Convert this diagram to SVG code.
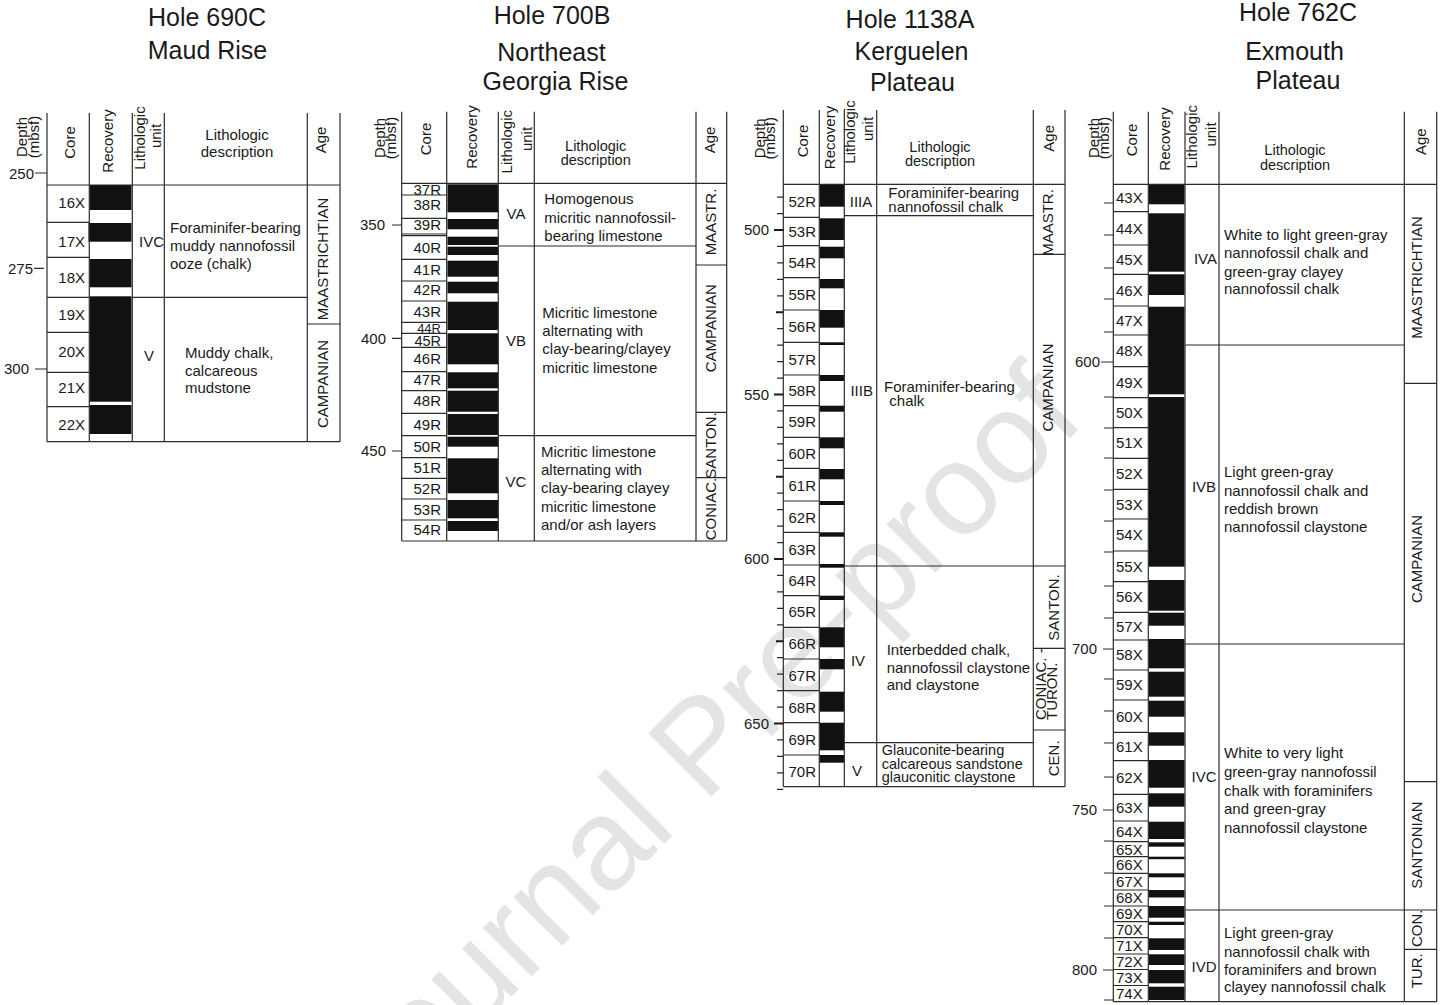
<svg xmlns="http://www.w3.org/2000/svg" width="1445" height="1005" viewBox="0 0 1445 1005">
<style>
.ln{stroke:#2b2b2b;stroke-width:1.2;fill:none}
.tk{stroke:#2b2b2b;stroke-width:1.2}
.tkb{stroke:#1a1a1a;stroke-width:2.2}
.blk{fill:#111}
text{font-family:"Liberation Sans",Arial,Helvetica,sans-serif;font-size:15px;fill:#1a1a1a}
.ti{font-size:25px}
.sm{font-size:14.5px}
.xs{font-size:13px}
.m{text-anchor:middle}
.e{text-anchor:end}
.wm{font-size:130px;fill:#e4e4e4}
</style>
<rect width="1445" height="1005" fill="#fff"/>
<text class="wm" transform="translate(377,1131) rotate(-45)">Journal Pre-proof</text>

<!-- ============ HOLE 690C ============ -->
<g id="hole-690C">
<text class="ti m" x="207" y="25.7">Hole 690C</text>
<text class="ti m" x="207.5" y="59.3">Maud Rise</text>
<g id="h690-header">
<text class="m" transform="translate(27,137) rotate(-90)">Depth</text>
<text class="m" transform="translate(39,137) rotate(-90)">(mbsf)</text>
<text class="m" transform="translate(75,142.5) rotate(-90)">Core</text>
<text class="m" transform="translate(112.5,141) rotate(-90)">Recovery</text>
<text class="m" transform="translate(144.5,138) rotate(-90)">Lithologic</text>
<text class="m" transform="translate(161,136) rotate(-90)">unit</text>
<text class="m" x="237" y="140">Lithologic</text>
<text class="m" x="237" y="156.7">description</text>
<text class="m" transform="translate(326,140) rotate(-90)">Age</text>
</g>
<g id="h690-recovery">
<rect class="blk" x="90" y="185" width="41.5" height="25"/>
<rect class="blk" x="88.5" y="223" width="43" height="18.7"/>
<rect class="blk" x="90" y="259" width="41.5" height="28.3"/>
<rect class="blk" x="90" y="296.3" width="41.5" height="105.4"/>
<rect class="blk" x="90" y="405" width="41.5" height="29"/>
</g>
<g id="h690-grid">
<path class="ln" d="M47,113V441.7 M89.3,113V441.7 M132.3,113V441.7 M164.3,113V441.7 M307.3,113V441.7 M340,113V441.7 M47,185H340 M47,441.7H340"/>
<path class="ln" d="M47,222.3H89.3 M47,257.3H89.3 M47,297.3H89.3 M47,332.3H89.3 M47,372.3H89.3 M47,406.7H89.3 M132.3,297.3H307.3 M307.3,324H340"/>
<path class="tk" d="M35,173H47 M34,268.3H44 M35,369H47"/>
</g>
<text class="e" x="34" y="178.5">250</text>
<text class="e" x="33" y="273.6">275</text>
<text class="e" x="29" y="374.3">300</text>
<g id="h690-cores">
<text class="e" x="85" y="208.4">16X</text>
<text class="e" x="85" y="247">17X</text>
<text class="e" x="85" y="283.4">18X</text>
<text class="e" x="85" y="320.4">19X</text>
<text class="e" x="85" y="357.4">20X</text>
<text class="e" x="85" y="393.4">21X</text>
<text class="e" x="85" y="430.4">22X</text>
</g>
<text class="m" x="151.5" y="247">IVC</text>
<text class="m" x="149" y="360.5">V</text>
<text x="170" y="233">Foraminifer-bearing</text>
<text x="170" y="251">muddy nannofossil</text>
<text x="170" y="269">ooze (chalk)</text>
<text x="185" y="358">Muddy chalk,</text>
<text x="185" y="375.5">calcareous</text>
<text x="185" y="393">mudstone</text>
<text class="m" transform="translate(328,259) rotate(-90)">MAASTRICHTIAN</text>
<text class="m" transform="translate(328,384) rotate(-90)">CAMPANIAN</text>
</g>

<!-- ============ HOLE 700B ============ -->
<g id="hole-700B">
<text class="ti m" x="552" y="24">Hole 700B</text>
<text class="ti m" x="551.5" y="61">Northeast</text>
<text class="ti m" x="555.5" y="90">Georgia Rise</text>
<g id="h700-header">
<text class="m" transform="translate(385,138) rotate(-90)">Depth</text>
<text class="m" transform="translate(396,138) rotate(-90)">(mbsf)</text>
<text class="m" transform="translate(431,139) rotate(-90)">Core</text>
<text class="m" transform="translate(477,137) rotate(-90)">Recovery</text>
<text class="m" transform="translate(512,141.7) rotate(-90)">Lithologic</text>
<text class="m" transform="translate(532,139) rotate(-90)">unit</text>
<text class="m sm" x="595.7" y="150.5">Lithologic</text>
<text class="m sm" x="595.7" y="164.5">description</text>
<text class="m" transform="translate(715,140) rotate(-90)">Age</text>
</g>
<g id="h700-recovery">
<rect class="blk" x="447.5" y="184.3" width="50.5" height="28"/>
<rect class="blk" x="447.5" y="219" width="50.5" height="10.3"/>
<rect class="blk" x="447.5" y="236.7" width="50.5" height="8.3"/>
<rect class="blk" x="447.5" y="246.7" width="50.5" height="8.3"/>
<rect class="blk" x="447.5" y="260.7" width="50.5" height="16"/>
<rect class="blk" x="447.5" y="281.7" width="50.5" height="11.6"/>
<rect class="blk" x="447.5" y="301.7" width="50.5" height="28.3"/>
<rect class="blk" x="447.5" y="333.3" width="50.5" height="31"/>
<rect class="blk" x="447.5" y="372.3" width="50.5" height="16"/>
<rect class="blk" x="447.5" y="390.7" width="50.5" height="21"/>
<rect class="blk" x="447.5" y="414" width="50.5" height="21"/>
<rect class="blk" x="447.5" y="436.7" width="50.5" height="10"/>
<rect class="blk" x="447.5" y="458.3" width="50.5" height="35"/>
<rect class="blk" x="447.5" y="500" width="50.5" height="18.3"/>
<rect class="blk" x="447.5" y="521" width="50.5" height="10"/>
</g>
<g id="h700-grid">
<path class="ln" d="M401.7,111.7V541 M446.7,111.7V541 M498.3,111.7V541 M534.3,111.7V541 M696,111.7V541 M726.7,111.7V541 M401.7,183.3H726.7 M401.7,541H726.7"/>
<path class="ln" d="M401.7,195H446.7 M401.7,218.3H446.7 M401.7,234H446.7 M401.7,235.7H446.7 M401.7,259.3H446.7 M401.7,281H446.7 M401.7,301H446.7 M401.7,322.3H446.7 M401.7,333.3H446.7 M401.7,347.3H446.7 M401.7,371.7H446.7 M401.7,390.7H446.7 M401.7,413.3H446.7 M401.7,435.7H446.7 M401.7,457.7H446.7 M401.7,478.3H446.7 M401.7,499H446.7 M401.7,520H446.7"/>
<path class="ln" d="M498.3,246H696 M498.3,435.7H696 M696,265H726.7 M696,412.3H726.7 M696,477.7H726.7"/>
<path class="tk" d="M392,225H401.7 M392,338.3H401.7 M392,451H401.7"/>
</g>
<text class="e" x="385" y="230.3">350</text>
<text class="e" x="386" y="343.6">400</text>
<text class="e" x="386" y="456.3">450</text>
<g id="h700-cores">
<text class="e" x="441" y="195.4">37R</text>
<text class="e" x="441" y="210.4">38R</text>
<text class="e" x="441" y="230.4">39R</text>
<text class="e" x="441" y="253">40R</text>
<text class="e" x="441" y="275.4">41R</text>
<text class="e" x="441" y="295.4">42R</text>
<text class="e" x="441" y="317">43R</text>
<text class="e xs" x="441" y="332.5">44R</text>
<text class="e sm" x="441" y="346">45R</text>
<text class="e" x="441" y="364.4">46R</text>
<text class="e" x="441" y="385.4">47R</text>
<text class="e" x="441" y="406.4">48R</text>
<text class="e" x="441" y="430.4">49R</text>
<text class="e" x="441" y="452">50R</text>
<text class="e" x="441" y="473">51R</text>
<text class="e" x="441" y="493.7">52R</text>
<text class="e" x="441" y="515.4">53R</text>
<text class="e" x="441" y="535.4">54R</text>
</g>
<text class="m" x="516" y="218.5">VA</text>
<text class="m" x="516" y="345.5">VB</text>
<text class="m" x="516" y="487">VC</text>
<text x="544.3" y="204.3">Homogenous</text>
<text x="544.3" y="223.3">micritic nannofossil-</text>
<text x="544.3" y="240.7">bearing limestone</text>
<text x="542.3" y="318.3">Micritic limestone</text>
<text x="542.3" y="336">alternating with</text>
<text x="542.3" y="354.3">clay-bearing/clayey</text>
<text x="542.3" y="372.7">micritic limestone</text>
<text x="541" y="456.7">Micritic limestone</text>
<text x="541" y="475">alternating with</text>
<text x="541" y="493.3">clay-bearing clayey</text>
<text x="541" y="511.7">micritic limestone</text>
<text x="541" y="530">and/or ash layers</text>
<text class="m" transform="translate(716,222) rotate(-90)">MAASTR.</text>
<text class="m" transform="translate(716,328.3) rotate(-90)">CAMPANIAN</text>
<text class="m" transform="translate(716,445.5) rotate(-90)">SANTON.</text>
<text class="m" transform="translate(716,509) rotate(-90)">CONIAC.</text>
</g>

<!-- ============ HOLE 1138A ============ -->
<g id="hole-1138A">
<text class="ti m" x="910" y="27.5">Hole 1138A</text>
<text class="ti m" x="911.5" y="60">Kerguelen</text>
<text class="ti m" x="912.5" y="90.5">Plateau</text>
<g id="h1138-header">
<text class="m" transform="translate(765,138.3) rotate(-90)">Depth</text>
<text class="m" transform="translate(775,138.3) rotate(-90)">(mbsf)</text>
<text class="m" transform="translate(807.5,141) rotate(-90)">Core</text>
<text class="m" transform="translate(835,137.5) rotate(-90)">Recovery</text>
<text class="m" transform="translate(855,132) rotate(-90)">Lithologic</text>
<text class="m" transform="translate(873,129) rotate(-90)">unit</text>
<text class="m sm" x="940" y="151.5">Lithologic</text>
<text class="m sm" x="940" y="165.5">description</text>
<text class="m" transform="translate(1054,138.3) rotate(-90)">Age</text>
</g>
<g id="h1138-recovery">
<rect class="blk" x="820" y="185" width="24" height="21.7"/>
<rect class="blk" x="820" y="218.3" width="24" height="21.7"/>
<rect class="blk" x="820" y="246.7" width="24" height="11.6"/>
<rect class="blk" x="820" y="279" width="24" height="9.3"/>
<rect class="blk" x="820" y="310" width="24" height="17.7"/>
<rect class="blk" x="820" y="342.3" width="24" height="2.7"/>
<rect class="blk" x="820" y="375" width="24" height="6"/>
<rect class="blk" x="820" y="405.7" width="24" height="6"/>
<rect class="blk" x="820" y="437.3" width="24" height="11"/>
<rect class="blk" x="820" y="469" width="24" height="10.3"/>
<rect class="blk" x="820" y="501" width="24" height="4"/>
<rect class="blk" x="820" y="532.3" width="24" height="4.4"/>
<rect class="blk" x="820" y="564" width="24" height="3.7"/>
<rect class="blk" x="820" y="595.7" width="24" height="4.3"/>
<rect class="blk" x="820" y="627.3" width="24" height="20"/>
<rect class="blk" x="820" y="659" width="24" height="10.3"/>
<rect class="blk" x="820" y="691.7" width="24" height="20"/>
<rect class="blk" x="820" y="722.7" width="24" height="27.6"/>
<rect class="blk" x="820" y="755" width="24" height="7.7"/>
</g>
<g id="h1138-grid">
<path class="ln" d="M783.3,110V786.7 M819.3,110V786.7 M844.3,110V786.7 M876.7,110V786.7 M1033.3,110V786.7 M1065,110V786.7 M783.3,184.3H1065 M783.3,786.7H1065"/>
<path class="ln" d="M783.3,217.3H819.3 M783.3,245.7H819.3 M783.3,277.7H819.3 M783.3,310H819.3 M783.3,342.3H819.3 M783.3,375H819.3 M783.3,405.7H819.3 M783.3,437.3H819.3 M783.3,468.3H819.3 M783.3,501H819.3 M783.3,532.3H819.3 M783.3,565H819.3 M783.3,595.7H819.3 M783.3,627.3H819.3 M783.3,659H819.3 M783.3,690.7H819.3 M783.3,722.7H819.3 M783.3,755H819.3"/>
<path class="ln" d="M844.3,215.7H1033.3 M844.3,566H1033.3 M844.3,742.7H1033.3 M1033.3,254.3H1065 M1033.3,566H1065 M1033.3,648.3H1065 M1033.3,730H1065"/>
<path class="tk" d="M777,197.1H783.3 M777,213.55H783.3 M777,246.45H783.3 M777,262.9H783.3 M777,279.35H783.3 M777,295.8H783.3 M777,328.7H783.3 M777,345.15H783.3 M777,361.6H783.3 M777,378.05H783.3 M777,410.95H783.3 M777,427.4H783.3 M777,443.85H783.3 M777,460.3H783.3 M777,493.2H783.3 M777,509.65H783.3 M777,526.1H783.3 M777,542.55H783.3 M777,575.45H783.3 M777,591.9H783.3 M777,608.35H783.3 M777,624.8H783.3 M777,657.7H783.3 M777,674.15H783.3 M777,690.6H783.3 M777,707.05H783.3 M777,739.95H783.3 M777,756.4H783.3 M777,772.85H783.3 M777,789.3H783.3"/>
<path class="tkb" d="M774,230H783.3 M776,312.25H783.3 M774,394.5H783.3 M776,476.75H783.3 M774,559H783.3 M776,641.25H783.3 M774,723.5H783.3"/>
</g>
<text class="e" x="769" y="235.3">500</text>
<text class="e" x="769" y="399.8">550</text>
<text class="e" x="769" y="564.3">600</text>
<text class="e" x="769" y="728.8">650</text>
<g id="h1138-cores">
<text class="e" x="816" y="206.6">52R</text>
<text class="e" x="816" y="237.3">53R</text>
<text class="e" x="816" y="267.5">54R</text>
<text class="e" x="816" y="299.7">55R</text>
<text class="e" x="816" y="332">56R</text>
<text class="e" x="816" y="364.5">57R</text>
<text class="e" x="816" y="396.2">58R</text>
<text class="e" x="816" y="427.3">59R</text>
<text class="e" x="816" y="458.6">60R</text>
<text class="e" x="816" y="490.5">61R</text>
<text class="e" x="816" y="522.5">62R</text>
<text class="e" x="816" y="554.5">63R</text>
<text class="e" x="816" y="586.2">64R</text>
<text class="e" x="816" y="617.3">65R</text>
<text class="e" x="816" y="649">66R</text>
<text class="e" x="816" y="680.7">67R</text>
<text class="e" x="816" y="712.5">68R</text>
<text class="e" x="816" y="744.7">69R</text>
<text class="e" x="816" y="776.7">70R</text>
</g>
<text class="m" x="861" y="207">IIIA</text>
<text class="m" x="861.7" y="395.5">IIIB</text>
<text class="m" x="858" y="665.5">IV</text>
<text class="m" x="857" y="775.5">V</text>
<text x="888.3" y="197.5">Foraminifer-bearing</text>
<text x="888.3" y="212">nannofossil chalk</text>
<text x="884" y="391.5">Foraminifer-bearing</text>
<text x="889.3" y="406">chalk</text>
<text x="886.7" y="655">Interbedded chalk,</text>
<text x="886.7" y="672.7">nannofossil claystone</text>
<text x="886.7" y="690">and claystone</text>
<text class="sm" x="881.7" y="755">Glauconite-bearing</text>
<text class="sm" x="881.7" y="768.5">calcareous sandstone</text>
<text class="sm" x="881.7" y="782">glauconitic claystone</text>
<text class="m" transform="translate(1053,222.5) rotate(-90)">MAASTR.</text>
<text class="m" transform="translate(1053,387.5) rotate(-90)">CAMPANIAN</text>
<text class="m" transform="translate(1059,607.5) rotate(-90)">SANTON.</text>
<text transform="translate(1046,720) rotate(-90)">CONIAC. -</text>
<text transform="translate(1057,720) rotate(-90)">TURON.</text>
<text class="m" transform="translate(1059,758.3) rotate(-90)">CEN.</text>
</g>

<!-- ============ HOLE 762C ============ -->
<g id="hole-762C">
<text class="ti m" x="1298" y="20.7">Hole 762C</text>
<text class="ti m" x="1294.5" y="60">Exmouth</text>
<text class="ti m" x="1298" y="89.3">Plateau</text>
<g id="h762-header">
<text class="m" transform="translate(1099,138) rotate(-90)">Depth</text>
<text class="m" transform="translate(1109,138) rotate(-90)">(mbsf)</text>
<text class="m" transform="translate(1136.5,140) rotate(-90)">Core</text>
<text class="m" transform="translate(1170,139) rotate(-90)">Recovery</text>
<text class="m" transform="translate(1196.5,136.7) rotate(-90)">Lithologic</text>
<text class="m" transform="translate(1216,134.5) rotate(-90)">unit</text>
<text class="m sm" x="1295" y="155">Lithologic</text>
<text class="m sm" x="1295" y="169.5">description</text>
<text class="m" transform="translate(1426,141.7) rotate(-90)">Age</text>
</g>
<g id="h762-recovery">
<rect class="blk" x="1149" y="184.3" width="35.5" height="20"/>
<rect class="blk" x="1149" y="213.3" width="35.5" height="58.4"/>
<rect class="blk" x="1149" y="274.3" width="35.5" height="20.7"/>
<rect class="blk" x="1149" y="306.7" width="35.5" height="87.6"/>
<rect class="blk" x="1149" y="397" width="35.5" height="169.7"/>
<rect class="blk" x="1149" y="580" width="35.5" height="30.7"/>
<rect class="blk" x="1149" y="612.7" width="35.5" height="13"/>
<rect class="blk" x="1149" y="639" width="35.5" height="29.3"/>
<rect class="blk" x="1149" y="671.7" width="35.5" height="25"/>
<rect class="blk" x="1149" y="700.7" width="35.5" height="16"/>
<rect class="blk" x="1149" y="732.3" width="35.5" height="13.4"/>
<rect class="blk" x="1149" y="760" width="35.5" height="27.7"/>
<rect class="blk" x="1149" y="793.3" width="35.5" height="13.4"/>
<rect class="blk" x="1149" y="821.7" width="35.5" height="17.3"/>
<rect class="blk" x="1149" y="842.3" width="35.5" height="4.4"/>
<rect class="blk" x="1149" y="856.7" width="35.5" height="2.5"/>
<rect class="blk" x="1149" y="873.3" width="35.5" height="4"/>
<rect class="blk" x="1149" y="890" width="35.5" height="7.5"/>
<rect class="blk" x="1149" y="906" width="35.5" height="11.7"/>
<rect class="blk" x="1149" y="921.7" width="35.5" height="3.3"/>
<rect class="blk" x="1149" y="938.3" width="35.5" height="11.7"/>
<rect class="blk" x="1149" y="954.3" width="35.5" height="10.7"/>
<rect class="blk" x="1149" y="970" width="35.5" height="13.3"/>
<rect class="blk" x="1149" y="986.7" width="35.5" height="13.3"/>
</g>
<g id="h762-grid">
<path class="ln" d="M1113.3,111.7V1001.7 M1148.3,111.7V1001.7 M1185,111.7V1001.7 M1219,111.7V1001.7 M1404.3,111.7V1001.7 M1436.7,111.7V1001.7 M1113.3,184.3H1436.7 M1113.3,1001.7H1436.7"/>
<path class="ln" d="M1113.3,211.7H1148.3 M1113.3,245H1148.3 M1113.3,274.3H1148.3 M1113.3,306H1148.3 M1113.3,335H1148.3 M1113.3,366.7H1148.3 M1113.3,397.7H1148.3 M1113.3,427.7H1148.3 M1113.3,458.3H1148.3 M1113.3,489.3H1148.3 M1113.3,519H1148.3 M1113.3,551H1148.3 M1113.3,581.7H1148.3 M1113.3,612.3H1148.3 M1113.3,640H1148.3 M1113.3,670H1148.3 M1113.3,700H1148.3 M1113.3,732.3H1148.3 M1113.3,760.7H1148.3 M1113.3,794.3H1148.3 M1113.3,821H1148.3 M1113.3,841.7H1148.3 M1113.3,856.7H1148.3 M1113.3,873.3H1148.3 M1113.3,890H1148.3 M1113.3,906H1148.3 M1113.3,921.7H1148.3 M1113.3,937.7H1148.3 M1113.3,954H1148.3 M1113.3,969.5H1148.3 M1113.3,985.5H1148.3"/>
<path class="ln" d="M1185,345H1404.3 M1185,644H1404.3 M1185,910H1404.3 M1404.3,383.3H1436.7 M1404.3,781.7H1436.7 M1404.3,910H1436.7 M1404.3,949.3H1436.7"/>
<path class="tk" d="M1104,203H1113.3 M1104,235H1113.3 M1104,268H1113.3 M1104,299H1113.3 M1104,332H1113.3 M1101,362H1113.3 M1104,397H1113.3 M1104,428H1113.3 M1104,458H1113.3 M1104,490H1113.3 M1104,521H1113.3 M1104,552H1113.3 M1104,586H1113.3 M1104,618H1113.3 M1103,649H1113.3 M1104,679H1113.3 M1104,711H1113.3 M1104,743H1113.3 M1104,777H1113.3 M1103,810H1113.3 M1104,841H1113.3 M1104,873H1113.3 M1104,906H1113.3 M1104,938H1113.3 M1103,970H1113.3 M1104,1000H1113.3"/>
</g>
<text class="e" x="1100" y="367.3">600</text>
<text class="e" x="1097" y="654.3">700</text>
<text class="e" x="1097" y="815.3">750</text>
<text class="e" x="1097" y="975.3">800</text>
<g id="h762-cores">
<text x="1116" y="203.4">43X</text>
<text x="1116" y="233.8">44X</text>
<text x="1116" y="265">45X</text>
<text x="1116" y="295.5">46X</text>
<text x="1116" y="325.9">47X</text>
<text x="1116" y="356.2">48X</text>
<text x="1116" y="387.6">49X</text>
<text x="1116" y="418.1">50X</text>
<text x="1116" y="448.4">51X</text>
<text x="1116" y="479.2">52X</text>
<text x="1116" y="509.5">53X</text>
<text x="1116" y="540.4">54X</text>
<text x="1116" y="571.7">55X</text>
<text x="1116" y="602.4">56X</text>
<text x="1116" y="631.5">57X</text>
<text x="1116" y="660.4">58X</text>
<text x="1116" y="690.4">59X</text>
<text x="1116" y="721.5">60X</text>
<text x="1116" y="751.9">61X</text>
<text x="1116" y="782.9">62X</text>
<text x="1116" y="813">63X</text>
<text x="1116" y="836.7">64X</text>
<text x="1116" y="854.6">65X</text>
<text x="1116" y="870.4">66X</text>
<text x="1116" y="887">67X</text>
<text x="1116" y="903.4">68X</text>
<text x="1116" y="919.2">69X</text>
<text x="1116" y="935.1">70X</text>
<text x="1116" y="951.2">71X</text>
<text x="1116" y="967.1">72X</text>
<text x="1116" y="982.9">73X</text>
<text x="1116" y="999">74X</text>
</g>
<text class="m" x="1205.5" y="263.8">IVA</text>
<text class="m" x="1204" y="492">IVB</text>
<text class="m" x="1204" y="782">IVC</text>
<text class="m" x="1204" y="972">IVD</text>
<text x="1224" y="240">White to light green-gray</text>
<text x="1224" y="258.3">nannofossil chalk and</text>
<text x="1224" y="276.7">green-gray clayey</text>
<text x="1224" y="294.3">nannofossil chalk</text>
<text x="1224" y="477.3">Light green-gray</text>
<text x="1224" y="495.7">nannofossil chalk and</text>
<text x="1224" y="514">reddish brown</text>
<text x="1224" y="531.7">nannofossil claystone</text>
<text x="1224" y="758.3">White to very light</text>
<text x="1224" y="777.3">green-gray nannofossil</text>
<text x="1224" y="795.7">chalk with foraminifers</text>
<text x="1224" y="814">and green-gray</text>
<text x="1224" y="832.7">nannofossil claystone</text>
<text x="1224" y="938.3">Light green-gray</text>
<text x="1224" y="956.7">nannofossil chalk with</text>
<text x="1224" y="975">foraminifers and brown</text>
<text x="1224" y="991.7">clayey nannofossil chalk</text>
<text class="m" transform="translate(1422,277.5) rotate(-90)">MAASTRICHTIAN</text>
<text class="m" transform="translate(1422,559) rotate(-90)">CAMPANIAN</text>
<text class="m" transform="translate(1422,845) rotate(-90)">SANTONIAN</text>
<text class="m" transform="translate(1422,928.3) rotate(-90)">CON.</text>
<text class="m" transform="translate(1422,970.8) rotate(-90)">TUR.</text>
</g>
</svg>
